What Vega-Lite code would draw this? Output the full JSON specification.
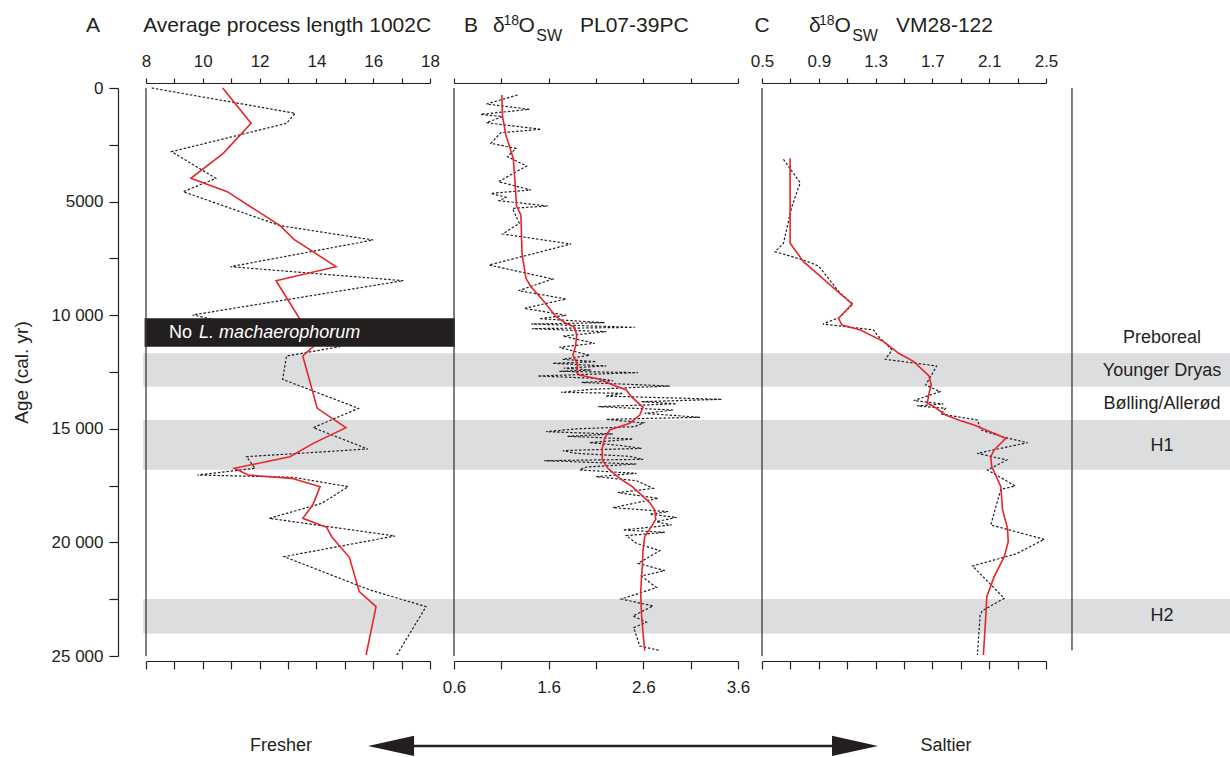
{
"$schema": "https://vega.github.io/schema/vega-lite/v6.json",
"padding": {"left": 12, "top": 13, "right": 0, "bottom": 0},
"background": "white",
"bounds": "flush",
"spacing": 24,
"config": {
 "view": {"stroke": null},
 "font": "Liberation Sans",
 "axis": {"domainColor": "#231f20", "tickColor": "#231f20", "labelColor": "#231f20", "titleColor": "#231f20", "grid": false, "labelFont": "Liberation Sans", "titleFont": "Liberation Sans", "labelFontSize": 17, "labelFontWeight": "normal", "domainWidth": 1.2, "tickWidth": 1.2, "labelOverlap": false, "labelFlush": false, "labelBound": false, "titleFontWeight": "normal"},
 "text": {"color": "#231f20", "font": "Liberation Sans"}
},
"datasets": {
 "bands": [{"start": 11678, "end": 13145}, {"start": 14612, "end": 16800}, {"start": 22490, "end": 24010}],
 "zones": [{"label": "Preboreal", "age": 11004}, {"label": "Younger Dryas", "age": 12456}, {"label": "Bølling/Allerød", "age": 13908}, {"label": "H1", "age": 15757}, {"label": "H2", "age": 23239}],
 "a_raw": [{"age":0,"value":8.2},{"age":1115,"value":13.25},{"age":1555,"value":12.95},{"age":2802,"value":8.9},{"age":3976,"value":10.46},{"age":4563,"value":9.31},{"age":6059,"value":12.72},{"age":6690,"value":16.0},{"age":7864,"value":10.98},{"age":8480,"value":17.06},{"age":9991,"value":9.64},{"age":11385,"value":14.83},{"age":11796,"value":12.95},{"age":12823,"value":12.81},{"age":14099,"value":15.48},{"age":14950,"value":13.89},{"age":15889,"value":15.81},{"age":16227,"value":11.54},{"age":16740,"value":11.84},{"age":17033,"value":9.81},{"age":17136,"value":13.19},{"age":17547,"value":15.12},{"age":18280,"value":14.19},{"age":18940,"value":12.34},{"age":19718,"value":16.77},{"age":20628,"value":12.86},{"age":22095,"value":15.89},{"age":22828,"value":17.86},{"age":24956,"value":16.83}],
 "a_smooth": [{"age":0,"value":10.7},{"age":1555,"value":11.7},{"age":2875,"value":10.72},{"age":3976,"value":9.58},{"age":4563,"value":10.86},{"age":6059,"value":12.72},{"age":6661,"value":13.21},{"age":7864,"value":14.69},{"age":8480,"value":12.58},{"age":10138,"value":13.4},{"age":11385,"value":13.89},{"age":11796,"value":13.52},{"age":14099,"value":14.03},{"age":14950,"value":15.04},{"age":15640,"value":13.89},{"age":16227,"value":13.07},{"age":16740,"value":11.11},{"age":17033,"value":11.6},{"age":17180,"value":13.13},{"age":17547,"value":14.13},{"age":18354,"value":13.87},{"age":18940,"value":13.52},{"age":19337,"value":14.36},{"age":19748,"value":14.54},{"age":20657,"value":15.16},{"age":22168,"value":15.51},{"age":22828,"value":16.1},{"age":24956,"value":15.75}],
 "b_raw": [{"age":308,"value":1.272},{"age":704,"value":0.943},{"age":939,"value":1.395},{"age":1159,"value":0.883},{"age":1262,"value":1.113},{"age":1526,"value":0.943},{"age":1819,"value":1.519},{"age":1966,"value":1.095},{"age":2435,"value":0.989},{"age":2656,"value":1.254},{"age":3022,"value":1.166},{"age":3433,"value":1.367},{"age":4123,"value":1.07},{"age":4489,"value":1.413},{"age":4636,"value":0.989},{"age":4812,"value":1.148},{"age":4959,"value":1.077},{"age":5194,"value":1.59},{"age":5296,"value":1.219},{"age":5957,"value":1.289},{"age":6426,"value":1.113},{"age":6866,"value":1.837},{"age":7790,"value":0.971},{"age":8407,"value":1.643},{"age":8920,"value":1.282},{"age":9287,"value":1.784},{"age":9698,"value":1.342},{"age":10006,"value":1.784},{"age":10153,"value":1.501},{"age":10329,"value":2.191},{"age":10387,"value":1.413},{"age":10534,"value":2.509},{"age":10592,"value":1.424},{"age":10725,"value":2.208},{"age":10915,"value":1.749},{"age":11238,"value":2.085},{"age":11414,"value":1.713},{"age":11766,"value":2.032},{"age":11942,"value":1.749},{"age":12045,"value":2.102},{"age":12119,"value":1.643},{"age":12236,"value":2.208},{"age":12330,"value":1.76},{"age":12412,"value":2.05},{"age":12470,"value":1.713},{"age":12529,"value":2.544},{"age":12676,"value":1.484},{"age":12780,"value":2.1},{"age":12882,"value":2.279},{"age":12960,"value":1.95},{"age":13116,"value":2.88},{"age":13263,"value":2.049},{"age":13395,"value":1.731},{"age":13439,"value":2.385},{"age":13560,"value":2.2},{"age":13703,"value":3.428},{"age":13806,"value":2.58},{"age":13900,"value":2.95},{"age":14026,"value":2.12},{"age":14173,"value":2.915},{"age":14319,"value":2.615},{"age":14495,"value":3.198},{"age":14583,"value":2.208},{"age":14740,"value":2.6},{"age":14906,"value":2.509},{"age":15000,"value":1.9},{"age":15126,"value":1.572},{"age":15229,"value":2.279},{"age":15330,"value":1.8},{"age":15449,"value":2.491},{"age":15610,"value":2.032},{"age":15730,"value":2.35},{"age":15860,"value":2.58},{"age":15960,"value":1.75},{"age":16080,"value":1.89},{"age":16210,"value":2.45},{"age":16344,"value":2.597},{"age":16402,"value":1.554},{"age":16549,"value":2.527},{"age":16680,"value":2.0},{"age":16813,"value":1.926},{"age":16960,"value":2.527},{"age":17106,"value":2.102},{"age":17283,"value":2.527},{"age":17620,"value":2.703},{"age":17811,"value":2.332},{"age":18060,"value":2.756},{"age":18471,"value":2.279},{"age":18647,"value":2.862},{"age":18764,"value":2.668},{"age":18896,"value":2.951},{"age":19087,"value":2.739},{"age":19233,"value":2.898},{"age":19454,"value":2.385},{"age":19557,"value":2.827},{"age":19703,"value":2.42},{"age":20041,"value":2.527},{"age":20363,"value":2.774},{"age":20921,"value":2.544},{"age":21243,"value":2.827},{"age":21478,"value":2.58},{"age":21991,"value":2.739},{"age":22490,"value":2.367},{"age":22798,"value":2.703},{"age":23238,"value":2.491},{"age":23517,"value":2.633},{"age":23752,"value":2.498},{"age":24559,"value":2.562},{"age":24764,"value":2.781}],
 "b_smooth": [{"age":308,"value":1.105},{"age":1262,"value":1.113},{"age":2069,"value":1.148},{"age":3096,"value":1.226},{"age":4049,"value":1.243},{"age":5194,"value":1.261},{"age":5590,"value":1.307},{"age":7277,"value":1.318},{"age":8377,"value":1.36},{"age":8744,"value":1.413},{"age":9331,"value":1.537},{"age":10065,"value":1.678},{"age":10358,"value":1.784},{"age":10534,"value":1.873},{"age":10871,"value":1.897},{"age":11385,"value":1.883},{"age":11752,"value":1.855},{"age":12192,"value":1.908},{"age":12485,"value":1.89},{"age":12632,"value":1.926},{"age":12823,"value":2.138},{"age":13072,"value":2.279},{"age":13292,"value":2.42},{"age":13586,"value":2.473},{"age":14055,"value":2.597},{"age":14393,"value":2.562},{"age":14759,"value":2.456},{"age":15053,"value":2.244},{"age":15420,"value":2.191},{"age":15860,"value":2.166},{"age":16373,"value":2.166},{"age":16740,"value":2.226},{"age":17180,"value":2.35},{"age":17517,"value":2.473},{"age":17840,"value":2.562},{"age":18251,"value":2.668},{"age":18574,"value":2.721},{"age":18984,"value":2.731},{"age":19307,"value":2.686},{"age":19747,"value":2.615},{"age":20334,"value":2.597},{"age":21067,"value":2.59},{"age":21580,"value":2.58},{"age":22241,"value":2.572},{"age":23121,"value":2.58},{"age":24001,"value":2.597},{"age":24764,"value":2.615}],
 "c_raw": [{"age":3140,"value":0.651},{"age":4167,"value":0.769},{"age":5223,"value":0.71},{"age":6837,"value":0.651},{"age":7203,"value":0.592},{"age":7570,"value":0.792},{"age":7834,"value":0.898},{"age":9037,"value":1.051},{"age":9507,"value":1.141},{"age":10093,"value":1.047},{"age":10387,"value":0.929},{"age":10651,"value":1.287},{"age":10871,"value":1.31},{"age":11531,"value":1.416},{"age":11942,"value":1.369},{"age":12235,"value":1.73},{"age":12705,"value":1.687},{"age":13071,"value":1.652},{"age":13365,"value":1.753},{"age":13761,"value":1.569},{"age":13907,"value":1.777},{"age":13995,"value":1.593},{"age":14098,"value":1.793},{"age":14348,"value":1.758},{"age":14612,"value":2.017},{"age":15052,"value":2.041},{"age":15375,"value":2.206},{"age":15610,"value":2.37},{"age":16079,"value":2.017},{"age":16373,"value":2.224},{"age":16813,"value":2.088},{"age":17517,"value":2.283},{"age":17663,"value":2.182},{"age":19233,"value":2.111},{"age":19864,"value":2.488},{"age":20510,"value":2.288},{"age":21038,"value":1.982},{"age":22461,"value":2.206},{"age":23004,"value":2.052},{"age":23194,"value":2.036},{"age":24955,"value":2.017}],
 "c_smooth": [{"age":3096,"value":0.698},{"age":6837,"value":0.698},{"age":7644,"value":0.792},{"age":9507,"value":1.134},{"age":10137,"value":1.039},{"age":10431,"value":1.063},{"age":10651,"value":1.193},{"age":11164,"value":1.357},{"age":11678,"value":1.463},{"age":12045,"value":1.569},{"age":12675,"value":1.676},{"age":13071,"value":1.692},{"age":13438,"value":1.676},{"age":13879,"value":1.664},{"age":14025,"value":1.711},{"age":14392,"value":1.793},{"age":14642,"value":1.899},{"age":14832,"value":1.994},{"age":15419,"value":2.217},{"age":15933,"value":2.135},{"age":16226,"value":2.111},{"age":16666,"value":2.118},{"age":17546,"value":2.182},{"age":18573,"value":2.194},{"age":19380,"value":2.229},{"age":19967,"value":2.234},{"age":20627,"value":2.206},{"age":21507,"value":2.135},{"age":22387,"value":2.083},{"age":23268,"value":2.076},{"age":24955,"value":2.059}]
},
"hconcat": [
 {
  "width": 284, "height": 568,
  "resolve": {"axis": {"x": "independent", "y": "independent"}},
  "layer": [
   {"data": {"name": "bands"}, "mark": {"type": "rect", "color": "#dcdddf"},
    "encoding": {
     "x": {"datum": 7.9, "type": "quantitative", "scale": {"domain": [8, 18], "nice": false, "zero": false}, "axis": null},
     "x2": {"datum": 18.88},
     "y": {"field": "start", "type": "quantitative", "scale": {"domain": [0, 25000], "reverse": true, "nice": false, "zero": false}, "axis": null},
     "y2": {"field": "end"}}},
   {"data": {"name": "a_raw"}, "mark": {"type": "line", "color": "#231f20", "strokeWidth": 1.2, "strokeDash": [2.5, 1.8]},
    "encoding": {
     "x": {"field": "value", "type": "quantitative", "scale": {"domain": [8, 18], "nice": false, "zero": false},
       "axis": {"orient": "top", "offset": 5, "values": [8, 9, 10, 11, 12, 13, 14, 15, 16, 17, 18], "tickSize": 5, "labelPadding": 8, "labelExpr": "datum.value % 2 == 0 ? format(datum.value, 'd') : ''", "title": null}},
     "y": {"field": "age", "type": "quantitative", "scale": {"domain": [0, 25000], "reverse": true, "nice": false, "zero": false},
       "axis": {"orient": "left", "offset": 28, "values": [0, 2500, 5000, 7500, 10000, 12500, 15000, 17500, 20000, 22500, 25000], "tickSize": 9, "labelPadding": 6, "labelFontSize": 17, "labelFontWeight": "normal", "labelExpr": "datum.value % 5000 != 0 ? '' : (datum.value < 10000 ? format(datum.value, 'd') : replace(format(datum.value, ','), ',', ' '))", "title": "Age (cal. yr)", "titleFontSize": 19, "titlePadding": 20}},
     "order": {"field": "age", "type": "quantitative"}}},
   {"data": {"name": "a_smooth"}, "mark": {"type": "line", "color": "#e8242b", "strokeWidth": 1.6},
    "encoding": {
     "x": {"field": "value", "type": "quantitative", "scale": {"domain": [8, 18], "nice": false, "zero": false},
       "axis": {"orient": "bottom", "offset": 5, "values": [8, 9, 10, 11, 12, 13, 14, 15, 16, 17, 18], "tickSize": 8, "labels": false, "title": null}},
     "y": {"field": "age", "type": "quantitative", "scale": {"domain": [0, 25000], "reverse": true, "nice": false, "zero": false}, "axis": null},
     "order": {"field": "age", "type": "quantitative"}}},
   {"data": {"values": [{}]}, "mark": {"type": "rect", "color": "#231f20"},
    "encoding": {
     "x": {"datum": 7.95, "type": "quantitative", "scale": {"domain": [8, 18], "nice": false, "zero": false}, "axis": null},
     "x2": {"datum": 18.88},
     "y": {"datum": 10138, "type": "quantitative", "scale": {"domain": [0, 25000], "reverse": true, "nice": false, "zero": false}, "axis": null},
     "y2": {"datum": 11385}}},
   {"data": {"values": [{}]}, "mark": {"type": "text", "text": "No", "color": "white", "fontSize": 18, "align": "left", "baseline": "middle"},
    "encoding": {
     "x": {"datum": 8.81, "type": "quantitative", "scale": {"domain": [8, 18], "nice": false, "zero": false}, "axis": null},
     "y": {"datum": 10780, "type": "quantitative", "scale": {"domain": [0, 25000], "reverse": true, "nice": false, "zero": false}, "axis": null}}},
   {"data": {"values": [{}]}, "mark": {"type": "text", "text": "L. machaerophorum", "color": "white", "fontSize": 18, "fontStyle": "italic", "align": "left", "baseline": "middle"},
    "encoding": {
     "x": {"datum": 9.87, "type": "quantitative", "scale": {"domain": [8, 18], "nice": false, "zero": false}, "axis": null},
     "y": {"datum": 10780, "type": "quantitative", "scale": {"domain": [0, 25000], "reverse": true, "nice": false, "zero": false}, "axis": null}}},
   {"data": {"values": [{}]}, "mark": {"type": "rule", "color": "#3a3a3a", "strokeWidth": 1.3},
    "encoding": {
     "x": {"datum": 8, "type": "quantitative", "scale": {"domain": [8, 18], "nice": false, "zero": false}, "axis": null},
     "y": {"datum": 0, "type": "quantitative", "scale": {"domain": [0, 25000], "reverse": true, "nice": false, "zero": false}, "axis": null},
     "y2": {"datum": 25000}}},
   {"data": {"values": [{}]}, "mark": {"type": "text", "text": "A", "fontSize": 21, "align": "center", "baseline": "alphabetic"},
    "encoding": {
     "x": {"datum": 6.13, "type": "quantitative", "scale": {"domain": [8, 18], "nice": false, "zero": false}, "axis": null},
     "y": {"datum": -2465, "type": "quantitative", "scale": {"domain": [0, 25000], "reverse": true, "nice": false, "zero": false}, "axis": null}}},
   {"data": {"values": [{}]}, "mark": {"type": "text", "text": "Average process length 1002C", "fontSize": 21, "align": "left", "baseline": "alphabetic"},
    "encoding": {
     "x": {"datum": 7.9, "type": "quantitative", "scale": {"domain": [8, 18], "nice": false, "zero": false}, "axis": null},
     "y": {"datum": -2465, "type": "quantitative", "scale": {"domain": [0, 25000], "reverse": true, "nice": false, "zero": false}, "axis": null}}}
  ]
 },
 {
  "width": 284, "height": 568,
  "resolve": {"axis": {"x": "independent"}},
  "layer": [
   {"data": {"name": "bands"}, "mark": {"type": "rect", "color": "#dcdddf"},
    "encoding": {
     "x": {"datum": 0.6, "type": "quantitative", "scale": {"domain": [0.6, 3.6], "nice": false, "zero": false}, "axis": null},
     "x2": {"datum": 3.855},
     "y": {"field": "start", "type": "quantitative", "scale": {"domain": [0, 25000], "reverse": true, "nice": false, "zero": false}, "axis": null},
     "y2": {"field": "end"}}},
   {"data": {"name": "b_raw"}, "mark": {"type": "line", "color": "#231f20", "strokeWidth": 1.2, "strokeDash": [2.5, 1.8]},
    "encoding": {
     "x": {"field": "value", "type": "quantitative", "scale": {"domain": [0.6, 3.6], "nice": false, "zero": false},
       "axis": {"orient": "top", "offset": 5, "values": [0.6, 1.1, 1.6, 2.1, 2.6, 3.1, 3.6], "tickSize": 5, "labels": false, "title": null}},
     "y": {"field": "age", "type": "quantitative", "scale": {"domain": [0, 25000], "reverse": true, "nice": false, "zero": false}, "axis": null},
     "order": {"field": "age", "type": "quantitative"}}},
   {"data": {"name": "b_smooth"}, "mark": {"type": "line", "color": "#e8242b", "strokeWidth": 1.6},
    "encoding": {
     "x": {"field": "value", "type": "quantitative", "scale": {"domain": [0.6, 3.6], "nice": false, "zero": false},
       "axis": {"orient": "bottom", "offset": 5, "values": [0.6, 1.1, 1.6, 2.1, 2.6, 3.1, 3.6], "tickSize": 8, "labelPadding": 10, "labelExpr": "(datum.value == 0.6 || datum.value == 1.6 || datum.value == 2.6 || datum.value == 3.6) ? format(datum.value, '.1f') : ''", "title": null}},
     "y": {"field": "age", "type": "quantitative", "scale": {"domain": [0, 25000], "reverse": true, "nice": false, "zero": false}, "axis": null},
     "order": {"field": "age", "type": "quantitative"}}},
   {"data": {"values": [{}]}, "mark": {"type": "rule", "color": "#3a3a3a", "strokeWidth": 1.3},
    "encoding": {
     "x": {"datum": 0.6, "type": "quantitative", "scale": {"domain": [0.6, 3.6], "nice": false, "zero": false}, "axis": null},
     "y": {"datum": 0, "type": "quantitative", "scale": {"domain": [0, 25000], "reverse": true, "nice": false, "zero": false}, "axis": null},
     "y2": {"datum": 25000}}},
   {"data": {"values": [{}]}, "mark": {"type": "text", "text": "B", "fontSize": 21, "align": "center", "baseline": "alphabetic"},
    "encoding": {
     "x": {"datum": 0.78, "type": "quantitative", "scale": {"domain": [0.6, 3.6], "nice": false, "zero": false}, "axis": null},
     "y": {"datum": -2465, "type": "quantitative", "scale": {"domain": [0, 25000], "reverse": true, "nice": false, "zero": false}, "axis": null}}},
   {"data": {"values": [{}]}, "mark": {"type": "text", "text": "δ", "fontSize": 21, "align": "left", "baseline": "alphabetic"},
    "encoding": {
     "x": {"datum": 1.012, "type": "quantitative", "scale": {"domain": [0.6, 3.6], "nice": false, "zero": false}, "axis": null},
     "y": {"datum": -2465, "type": "quantitative", "scale": {"domain": [0, 25000], "reverse": true, "nice": false, "zero": false}, "axis": null}}},
   {"data": {"values": [{}]}, "mark": {"type": "text", "text": "18", "fontSize": 14, "align": "left", "baseline": "alphabetic"},
    "encoding": {
     "x": {"datum": 1.123, "type": "quantitative", "scale": {"domain": [0.6, 3.6], "nice": false, "zero": false}, "axis": null},
     "y": {"datum": -2773, "type": "quantitative", "scale": {"domain": [0, 25000], "reverse": true, "nice": false, "zero": false}, "axis": null}}},
   {"data": {"values": [{}]}, "mark": {"type": "text", "text": "O", "fontSize": 21, "align": "left", "baseline": "alphabetic"},
    "encoding": {
     "x": {"datum": 1.282, "type": "quantitative", "scale": {"domain": [0.6, 3.6], "nice": false, "zero": false}, "axis": null},
     "y": {"datum": -2465, "type": "quantitative", "scale": {"domain": [0, 25000], "reverse": true, "nice": false, "zero": false}, "axis": null}}},
   {"data": {"values": [{}]}, "mark": {"type": "text", "text": "SW", "fontSize": 16, "align": "left", "baseline": "alphabetic"},
    "encoding": {
     "x": {"datum": 1.47, "type": "quantitative", "scale": {"domain": [0.6, 3.6], "nice": false, "zero": false}, "axis": null},
     "y": {"datum": -2069, "type": "quantitative", "scale": {"domain": [0, 25000], "reverse": true, "nice": false, "zero": false}, "axis": null}}},
   {"data": {"values": [{}]}, "mark": {"type": "text", "text": "PL07-39PC", "fontSize": 21, "align": "left", "baseline": "alphabetic"},
    "encoding": {
     "x": {"datum": 1.931, "type": "quantitative", "scale": {"domain": [0.6, 3.6], "nice": false, "zero": false}, "axis": null},
     "y": {"datum": -2465, "type": "quantitative", "scale": {"domain": [0, 25000], "reverse": true, "nice": false, "zero": false}, "axis": null}}},
   {"data": {"values": [{}]}, "mark": {"type": "rule", "color": "#231f20", "strokeWidth": 2.5},
    "encoding": {
     "x": {"datum": 0.1, "type": "quantitative", "scale": {"domain": [0.6, 3.6], "nice": false, "zero": false}, "axis": null},
     "x2": {"datum": 4.6},
     "y": {"datum": 28961, "type": "quantitative", "scale": {"domain": [0, 25000], "reverse": true, "nice": false, "zero": false}, "axis": null}}},
   {"data": {"values": [{}]}, "mark": {"type": "point", "shape": "M-1,0L1,-0.44L1,0.44Z", "filled": true, "size": 2116, "color": "#231f20", "opacity": 1, "strokeWidth": 0},
    "encoding": {
     "x": {"datum": -0.065, "type": "quantitative", "scale": {"domain": [0.6, 3.6], "nice": false, "zero": false}, "axis": null},
     "y": {"datum": 28961, "type": "quantitative", "scale": {"domain": [0, 25000], "reverse": true, "nice": false, "zero": false}, "axis": null}}},
   {"data": {"values": [{}]}, "mark": {"type": "point", "shape": "M1,0L-1,-0.44L-1,0.44Z", "filled": true, "size": 2116, "color": "#231f20", "opacity": 1, "strokeWidth": 0},
    "encoding": {
     "x": {"datum": 4.836, "type": "quantitative", "scale": {"domain": [0.6, 3.6], "nice": false, "zero": false}, "axis": null},
     "y": {"datum": 28961, "type": "quantitative", "scale": {"domain": [0, 25000], "reverse": true, "nice": false, "zero": false}, "axis": null}}},
   {"data": {"values": [{}]}, "mark": {"type": "text", "text": "Fresher", "fontSize": 18, "align": "center", "baseline": "middle"},
    "encoding": {
     "x": {"datum": -1.227, "type": "quantitative", "scale": {"domain": [0.6, 3.6], "nice": false, "zero": false}, "axis": null},
     "y": {"datum": 28961, "type": "quantitative", "scale": {"domain": [0, 25000], "reverse": true, "nice": false, "zero": false}, "axis": null}}},
   {"data": {"values": [{}]}, "mark": {"type": "text", "text": "Saltier", "fontSize": 18, "align": "center", "baseline": "middle"},
    "encoding": {
     "x": {"datum": 5.797, "type": "quantitative", "scale": {"domain": [0.6, 3.6], "nice": false, "zero": false}, "axis": null},
     "y": {"datum": 28961, "type": "quantitative", "scale": {"domain": [0, 25000], "reverse": true, "nice": false, "zero": false}, "axis": null}}}
  ]
 },
 {
  "width": 284, "height": 568,
  "resolve": {"axis": {"x": "independent"}},
  "layer": [
   {"data": {"name": "bands"}, "mark": {"type": "rect", "color": "#dcdddf"},
    "encoding": {
     "x": {"datum": 0.5, "type": "quantitative", "scale": {"domain": [0.5, 2.5], "nice": false, "zero": false}, "axis": null},
     "x2": {"datum": 3.8},
     "y": {"field": "start", "type": "quantitative", "scale": {"domain": [0, 25000], "reverse": true, "nice": false, "zero": false}, "axis": null},
     "y2": {"field": "end"}}},
   {"data": {"name": "c_raw"}, "mark": {"type": "line", "color": "#231f20", "strokeWidth": 1.2, "strokeDash": [2.5, 1.8]},
    "encoding": {
     "x": {"field": "value", "type": "quantitative", "scale": {"domain": [0.5, 2.5], "nice": false, "zero": false},
       "axis": {"orient": "top", "offset": 5, "values": [0.5, 0.7, 0.9, 1.1, 1.3, 1.5, 1.7, 1.9, 2.1, 2.3, 2.5], "tickSize": 5, "labelPadding": 8, "labelExpr": "indexof(['0.5','0.9','1.3','1.7','2.1','2.5'], format(datum.value, '.1f')) >= 0 ? format(datum.value, '.1f') : ''", "title": null}},
     "y": {"field": "age", "type": "quantitative", "scale": {"domain": [0, 25000], "reverse": true, "nice": false, "zero": false}, "axis": null},
     "order": {"field": "age", "type": "quantitative"}}},
   {"data": {"name": "c_smooth"}, "mark": {"type": "line", "color": "#e8242b", "strokeWidth": 1.6},
    "encoding": {
     "x": {"field": "value", "type": "quantitative", "scale": {"domain": [0.5, 2.5], "nice": false, "zero": false},
       "axis": {"orient": "bottom", "offset": 5, "values": [0.5, 0.7, 0.9, 1.1, 1.3, 1.5, 1.7, 1.9, 2.1, 2.3, 2.5], "tickSize": 8, "labels": false, "title": null}},
     "y": {"field": "age", "type": "quantitative", "scale": {"domain": [0, 25000], "reverse": true, "nice": false, "zero": false}, "axis": null},
     "order": {"field": "age", "type": "quantitative"}}},
   {"data": {"values": [{}]}, "mark": {"type": "rule", "color": "#3a3a3a", "strokeWidth": 1.3},
    "encoding": {
     "x": {"datum": 0.5, "type": "quantitative", "scale": {"domain": [0.5, 2.5], "nice": false, "zero": false}, "axis": null},
     "y": {"datum": 0, "type": "quantitative", "scale": {"domain": [0, 25000], "reverse": true, "nice": false, "zero": false}, "axis": null},
     "y2": {"datum": 25000}}},
   {"data": {"values": [{}]}, "mark": {"type": "rule", "color": "#3a3a3a", "strokeWidth": 1.3},
    "encoding": {
     "x": {"datum": 2.683, "type": "quantitative", "scale": {"domain": [0.5, 2.5], "nice": false, "zero": false}, "axis": null},
     "y": {"datum": 0, "type": "quantitative", "scale": {"domain": [0, 25000], "reverse": true, "nice": false, "zero": false}, "axis": null},
     "y2": {"datum": 24750}}},
   {"data": {"name": "zones"}, "mark": {"type": "text", "fontSize": 18, "align": "center", "baseline": "middle"},
    "encoding": {
     "x": {"datum": 3.317, "type": "quantitative", "scale": {"domain": [0.5, 2.5], "nice": false, "zero": false}, "axis": null},
     "y": {"field": "age", "type": "quantitative", "scale": {"domain": [0, 25000], "reverse": true, "nice": false, "zero": false}, "axis": null},
     "text": {"field": "label", "type": "nominal"}}},
   {"data": {"values": [{}]}, "mark": {"type": "text", "text": "C", "fontSize": 21, "align": "center", "baseline": "alphabetic"},
    "encoding": {
     "x": {"datum": 0.5, "type": "quantitative", "scale": {"domain": [0.5, 2.5], "nice": false, "zero": false}, "axis": null},
     "y": {"datum": -2465, "type": "quantitative", "scale": {"domain": [0, 25000], "reverse": true, "nice": false, "zero": false}, "axis": null}}},
   {"data": {"values": [{}]}, "mark": {"type": "text", "text": "δ", "fontSize": 21, "align": "left", "baseline": "alphabetic"},
    "encoding": {
     "x": {"datum": 0.831, "type": "quantitative", "scale": {"domain": [0.5, 2.5], "nice": false, "zero": false}, "axis": null},
     "y": {"datum": -2465, "type": "quantitative", "scale": {"domain": [0, 25000], "reverse": true, "nice": false, "zero": false}, "axis": null}}},
   {"data": {"values": [{}]}, "mark": {"type": "text", "text": "18", "fontSize": 14, "align": "left", "baseline": "alphabetic"},
    "encoding": {
     "x": {"datum": 0.901, "type": "quantitative", "scale": {"domain": [0.5, 2.5], "nice": false, "zero": false}, "axis": null},
     "y": {"datum": -2773, "type": "quantitative", "scale": {"domain": [0, 25000], "reverse": true, "nice": false, "zero": false}, "axis": null}}},
   {"data": {"values": [{}]}, "mark": {"type": "text", "text": "O", "fontSize": 21, "align": "left", "baseline": "alphabetic"},
    "encoding": {
     "x": {"datum": 1.01, "type": "quantitative", "scale": {"domain": [0.5, 2.5], "nice": false, "zero": false}, "axis": null},
     "y": {"datum": -2465, "type": "quantitative", "scale": {"domain": [0, 25000], "reverse": true, "nice": false, "zero": false}, "axis": null}}},
   {"data": {"values": [{}]}, "mark": {"type": "text", "text": "SW", "fontSize": 16, "align": "left", "baseline": "alphabetic"},
    "encoding": {
     "x": {"datum": 1.135, "type": "quantitative", "scale": {"domain": [0.5, 2.5], "nice": false, "zero": false}, "axis": null},
     "y": {"datum": -2069, "type": "quantitative", "scale": {"domain": [0, 25000], "reverse": true, "nice": false, "zero": false}, "axis": null}}},
   {"data": {"values": [{}]}, "mark": {"type": "text", "text": "VM28-122", "fontSize": 21, "align": "left", "baseline": "alphabetic"},
    "encoding": {
     "x": {"datum": 1.444, "type": "quantitative", "scale": {"domain": [0.5, 2.5], "nice": false, "zero": false}, "axis": null},
     "y": {"datum": -2465, "type": "quantitative", "scale": {"domain": [0, 25000], "reverse": true, "nice": false, "zero": false}, "axis": null}}}
  ]
 }
]
}
